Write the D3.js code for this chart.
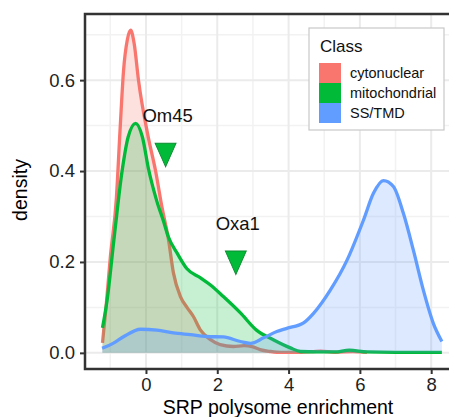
<!DOCTYPE html>
<html>
<head>
<meta charset="utf-8">
<script src="https://cdnjs.cloudflare.com/ajax/libs/d3/7.8.5/d3.min.js"></script>
<style>
  body { margin: 0; background: #fff; }
  svg text { font-family: "Liberation Sans", Arial, Helvetica, sans-serif; }
</style>
</head>
<body>
<div id="chart"></div>
<script>
var classes = ["cytonuclear", "mitochondrial", "SS/TMD"];

var cytoX = [-1.22, -1.12, -1.0, -0.83, -0.72, -0.63, -0.52, -0.43, -0.33, -0.21, 0.05, 0.27, 0.45, 0.63, 0.77, 0.97, 1.15, 1.33, 1.53, 1.81, 2.08, 2.45, 2.75, 3.0, 3.2, 3.5, 3.8, 4.3, 4.9, 5.3, 5.8, 6.2];
var cytoY = [0.022, 0.10, 0.21, 0.34, 0.50, 0.62, 0.69, 0.71, 0.68, 0.60, 0.48, 0.40, 0.32, 0.25, 0.176, 0.123, 0.10, 0.08, 0.05, 0.029, 0.018, 0.014, 0.016, 0.013, 0.007, 0.003, 0.001, 0.001, 0.004, 0.001, 0.003, 0.001];

var mitoX = [-1.22, -1.09, -0.9, -0.67, -0.5, -0.29, -0.1, 0.07, 0.3, 0.49, 0.63, 0.87, 1.15, 1.53, 1.8, 2.17, 2.65, 3.1, 3.57, 4.05, 4.33, 4.8, 5.3, 5.7, 6.2, 7.0, 8.3];
var mitoY = [0.055, 0.116, 0.248, 0.40, 0.475, 0.505, 0.475, 0.405, 0.335, 0.29, 0.255, 0.22, 0.185, 0.165, 0.15, 0.124, 0.088, 0.05, 0.029, 0.011, 0.003, 0.002, 0.002, 0.006, 0.002, 0.001, 0.001];

var ssX = [-1.23, -0.9, -0.62, -0.15, 0.31, 0.77, 1.25, 1.71, 2.17, 2.65, 2.93, 3.3, 3.67, 3.95, 4.42, 4.70, 5.17, 5.64, 6.10, 6.38, 6.66, 6.94, 7.22, 7.50, 7.78, 8.06, 8.30];
var ssY = [0.010, 0.022, 0.036, 0.052, 0.05, 0.044, 0.04, 0.036, 0.035, 0.025, 0.021, 0.033, 0.047, 0.054, 0.066, 0.087, 0.138, 0.204, 0.292, 0.351, 0.379, 0.366, 0.307, 0.226, 0.138, 0.065, 0.025];

var markerNames = ["Om45", "Oxa1"];
var markerX = [0.55, 2.52];
var markerY = [0.424, 0.187];

var xTicks = [0, 2, 4, 6, 8];
var yTicks = [0, 0.2, 0.4, 0.6];
var xMinor = [-1, 1, 3, 5, 7];
var yMinor = [0.1, 0.3, 0.5, 0.7];

var colors = ["#F8766D", "#00BA38", "#619CFF"];

var width = 449,
    height = 417,
    panelLeft = 85,
    panelTop = 14,
    panelBottom = 369,
    panelRight = 459;

var svg = d3.select("#chart").append("svg")
  .attr("width", width)
  .attr("height", height);

var xScale = d3.scaleLinear().domain([-1.71, 8.78]).range([panelLeft, panelRight]);
var yScale = d3.scaleLinear().domain([-0.0355, 0.7455]).range([panelBottom, panelTop]);

// grid
var grid = svg.append("g");
grid.selectAll(".vminor").data(xMinor).enter().append("line")
  .attr("x1", function (d) { return xScale(d); })
  .attr("x2", function (d) { return xScale(d); })
  .attr("y1", panelTop).attr("y2", panelBottom)
  .attr("stroke", "#F2F2F2").attr("stroke-width", 1.5);
grid.selectAll(".hminor").data(yMinor).enter().append("line")
  .attr("y1", function (d) { return yScale(d); })
  .attr("y2", function (d) { return yScale(d); })
  .attr("x1", panelLeft).attr("x2", panelRight)
  .attr("stroke", "#F2F2F2").attr("stroke-width", 1.5);
grid.selectAll(".vmajor").data(xTicks).enter().append("line")
  .attr("x1", function (d) { return xScale(d); })
  .attr("x2", function (d) { return xScale(d); })
  .attr("y1", panelTop).attr("y2", panelBottom)
  .attr("stroke", "#EBEBEB").attr("stroke-width", 2);
grid.selectAll(".hmajor").data(yTicks).enter().append("line")
  .attr("y1", function (d) { return yScale(d); })
  .attr("y2", function (d) { return yScale(d); })
  .attr("x1", panelLeft).attr("x2", panelRight)
  .attr("stroke", "#EBEBEB").attr("stroke-width", 2);

// densities
var series = [
  { name: classes[0], pts: d3.zip(cytoX, cytoY) },
  { name: classes[1], pts: d3.zip(mitoX, mitoY) },
  { name: classes[2], pts: d3.zip(ssX, ssY) }
];

var area = d3.area()
  .x(function (d) { return xScale(d[0]); })
  .y0(yScale(0))
  .y1(function (d) { return yScale(d[1]); })
  .curve(d3.curveMonotoneX);

var line = d3.line()
  .x(function (d) { return xScale(d[0]); })
  .y(function (d) { return yScale(d[1]); })
  .curve(d3.curveMonotoneX);

series.forEach(function (s, i) {
  svg.append("path").attr("d", area(s.pts))
    .attr("fill", colors[i])
    .attr("fill-opacity", 0.22);
  svg.append("path").attr("d", line(s.pts))
    .attr("fill", "none")
    .attr("stroke", colors[i])
    .attr("stroke-width", 3.3)
    .attr("stroke-linejoin", "round");
});

// markers
var tri = d3.symbol().type(d3.symbolTriangle).size(190);
svg.selectAll(".marker").data(markerX).enter().append("path")
  .attr("d", tri)
  .attr("transform", function (d, i) {
    return "translate(" + xScale(d) + "," + (yScale(markerY[i]) - 9) + ") rotate(180) scale(1,1.3)";
  })
  .attr("fill", "#00BA38")
  .attr("stroke", "#0B8A30")
  .attr("stroke-width", 0.8);

svg.selectAll(".mlabel").data(markerNames).enter().append("text")
  .attr("x", function (d, i) { return xScale(markerX[i]) + 2; })
  .attr("y", function (d, i) { return yScale(markerY[i]) - 38; })
  .attr("text-anchor", "middle")
  .attr("font-size", 18.5)
  .attr("fill", "#111")
  .text(function (d) { return d; });

// panel border
svg.append("rect")
  .attr("x", panelLeft).attr("y", panelTop)
  .attr("width", panelRight - panelLeft).attr("height", panelBottom - panelTop)
  .attr("fill", "none")
  .attr("stroke", "#333")
  .attr("stroke-width", 2.5);

// axes
var xAxis = d3.axisBottom(xScale).tickValues(xTicks).tickSize(4).tickPadding(4)
  .tickFormat(d3.format("d"));
var yAxis = d3.axisLeft(yScale).tickValues(yTicks).tickSize(4).tickPadding(5)
  .tickFormat(d3.format(".1f"));

var gx = svg.append("g")
  .attr("transform", "translate(0," + (panelBottom + 1) + ")")
  .call(xAxis);
var gy = svg.append("g")
  .attr("transform", "translate(" + (panelLeft - 1) + ",0)")
  .call(yAxis);

[gx, gy].forEach(function (g) {
  g.select(".domain").remove();
  g.selectAll(".tick line").attr("stroke", "#333").attr("stroke-width", 2);
  g.selectAll(".tick text")
    .attr("fill", "#222")
    .style("font-size", "18.5px")
    .style("font-family", "'Liberation Sans', Arial, sans-serif");
});

svg.append("text")
  .attr("x", (panelLeft + width) / 2 + 11)
  .attr("y", 414)
  .attr("text-anchor", "middle")
  .attr("font-size", 19.5)
  .attr("fill", "#000")
  .text("SRP polysome enrichment");

svg.append("text")
  .attr("transform", "translate(27," + 190 + ") rotate(-90)")
  .attr("text-anchor", "middle")
  .attr("font-size", 19.5)
  .attr("fill", "#000")
  .text("density");

// legend
var legend = svg.append("g");
legend.append("rect")
  .attr("x", 309).attr("y", 28)
  .attr("width", 135).attr("height", 102)
  .attr("fill", "#fff")
  .attr("stroke", "#C8C8C8")
  .attr("stroke-width", 1.2);
legend.append("text")
  .attr("x", 320).attr("y", 52)
  .attr("font-size", 17)
  .attr("fill", "#111")
  .text("Class");
legend.selectAll(".key").data(classes).enter().append("rect")
  .attr("x", 319)
  .attr("y", function (d, i) { return 63 + i * 20; })
  .attr("width", 22).attr("height", 20)
  .attr("fill", function (d, i) { return colors[i]; });
legend.selectAll(".lab").data(classes).enter().append("text")
  .attr("x", 350)
  .attr("y", function (d, i) { return 78 + i * 20; })
  .attr("font-size", 14.5)
  .attr("fill", "#111")
  .text(function (d) { return d; });
</script>
</body>
</html>
